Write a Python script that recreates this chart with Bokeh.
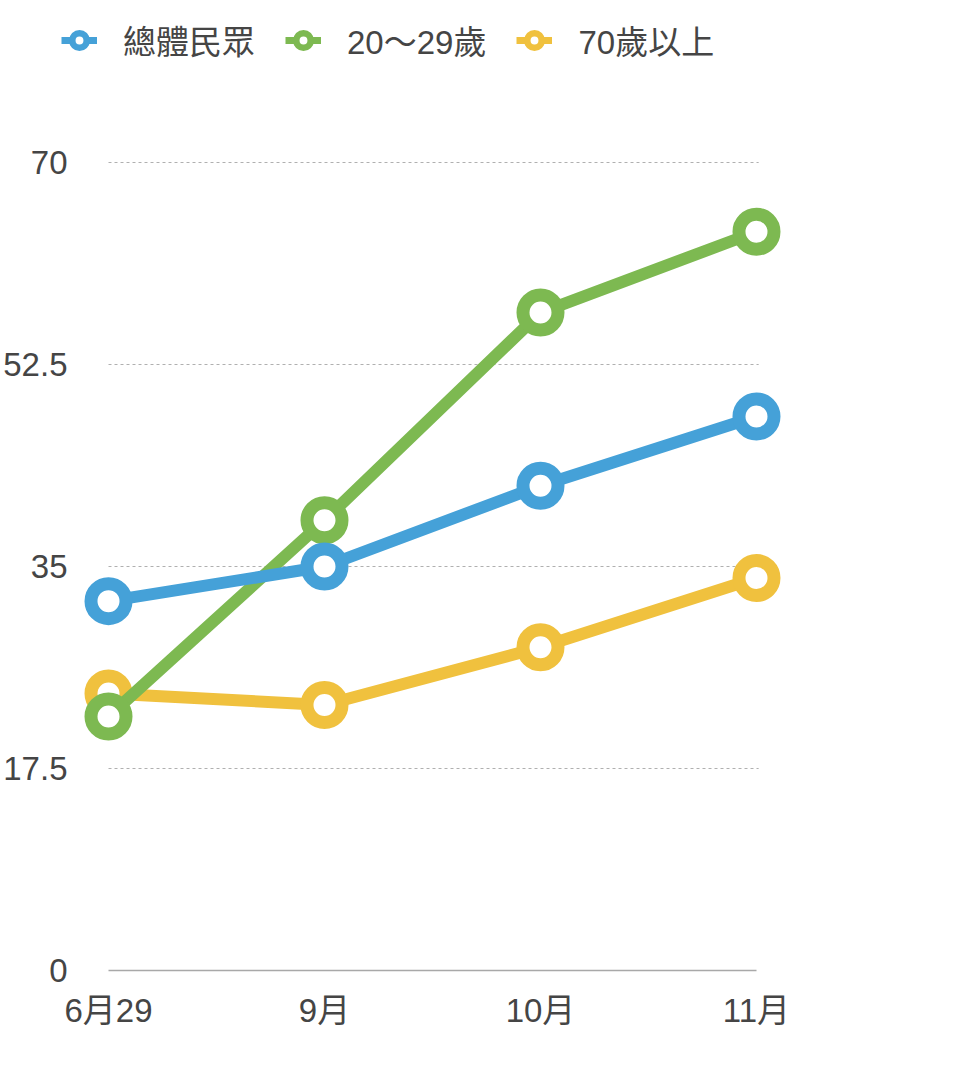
from bokeh.plotting import figure
from bokeh.models import (Range1d, FixedTicker, Legend, LegendItem, ColumnDataSource)
from bokeh.embed import file_html
from bokeh.resources import INLINE

# ---- data ----
categories = ["6月29", "9月", "10月", "11月"]
series_names = ["總體民眾", "20～29歲", "70歲以上"]
overall = [32, 35, 42, 48]
age_20_29 = [22, 39, 57, 64]
age_70_up = [24, 23, 28, 34]
y_ticks = [0, 17.5, 35, 52.5, 70]
y_tick_labels = ["0", "17.5", "35", "52.5", "70"]

colors = {"總體民眾": "#45a1d8", "20～29歲": "#7db951", "70歲以上": "#f0c13e"}
FONT = "Liberation Sans, Noto Sans CJK TC"
TEXT_COLOR = "#454545"

xs = list(range(len(categories)))

# frame spans page x 40..784 and y 10..970 (legend lives inside the frame)
p = figure(frame_width=744, frame_height=960,
           min_border_left=40, min_border_top=10, min_border_bottom=90,
           min_border_right=140,
           x_range=Range1d(-0.3102, 3.1343), y_range=Range1d(0, 83.168),
           output_backend="svg", toolbar_location=None)
p.outline_line_color = None
p.background_fill_color = "white"
p.border_fill_color = "white"

# grid lines as dashed segments across the category span
p.xgrid.visible = False
p.ygrid.visible = False
grid_src = ColumnDataSource(dict(
    x0=[xs[0]] * (len(y_ticks) - 1), x1=[xs[-1] + 0.01] * (len(y_ticks) - 1),
    y=y_ticks[1:]))
p.segment(x0="x0", x1="x1", y0="y", y1="y", source=grid_src,
          line_color="#b0b0b0", line_width=1.2, line_dash="3 3")

# y axis (labels pulled toward the plot with a negative standoff)
p.yaxis.ticker = FixedTicker(ticks=y_ticks)
p.yaxis.major_label_overrides = {t: l for t, l in zip(y_ticks, y_tick_labels)}
p.yaxis.axis_line_color = None
p.yaxis.major_tick_line_color = None
p.yaxis.minor_tick_line_color = None
p.yaxis.major_tick_out = 0
p.yaxis.major_tick_in = 0
p.yaxis.major_label_standoff = -26
p.yaxis.major_label_text_font = FONT
p.yaxis.major_label_text_font_size = "33px"
p.yaxis.major_label_text_color = TEXT_COLOR

# x axis
p.xaxis.ticker = FixedTicker(ticks=xs)
p.xaxis.major_label_overrides = {i: c for i, c in zip(xs, categories)}
p.xaxis.bounds = (xs[0], xs[-1])
p.xaxis.axis_line_color = "#a8a8a8"
p.xaxis.axis_line_width = 1.5
p.xaxis.major_tick_line_color = None
p.xaxis.minor_tick_line_color = None
p.xaxis.major_tick_out = 0
p.xaxis.major_tick_in = 0
p.xaxis.major_label_standoff = 21
p.xaxis.major_label_text_font = FONT
p.xaxis.major_label_text_font_size = "33px"
p.xaxis.major_label_text_color = TEXT_COLOR

data = {"總體民眾": overall, "20～29歲": age_20_29, "70歲以上": age_70_up}

# draw order: yellow, green, blue (blue on top)
for name in ["70歲以上", "20～29歲", "總體民眾"]:
    c = colors[name]
    p.line(xs, data[name], line_color=c, line_width=12, line_join="round")
    p.scatter(xs, data[name], size=35, fill_color="white", line_color=c,
              line_width=13)

# legend-only renderers (thinner look), placed outside the visible ranges
items = []
for name in series_names:
    c = colors[name]
    lr = p.line([-5, -4], [-5, -5], line_color=c, line_width=7)
    sr = p.scatter([-5], [-5], size=15, fill_color="white", line_color=c, line_width=6.5)
    items.append(LegendItem(label=name, renderers=[lr, sr]))

legend = Legend(items=items, orientation="horizontal", location=(20, 906),
                glyph_width=36, glyph_height=36, label_height=36,
                label_standoff=26, spacing=30, padding=0, margin=0,
                border_line_color=None, background_fill_alpha=0,
                label_text_font=FONT, label_text_font_size="33px",
                label_text_color=TEXT_COLOR)
p.add_layout(legend, "center")

open("out.html", "w").write(file_html(p, INLINE))
